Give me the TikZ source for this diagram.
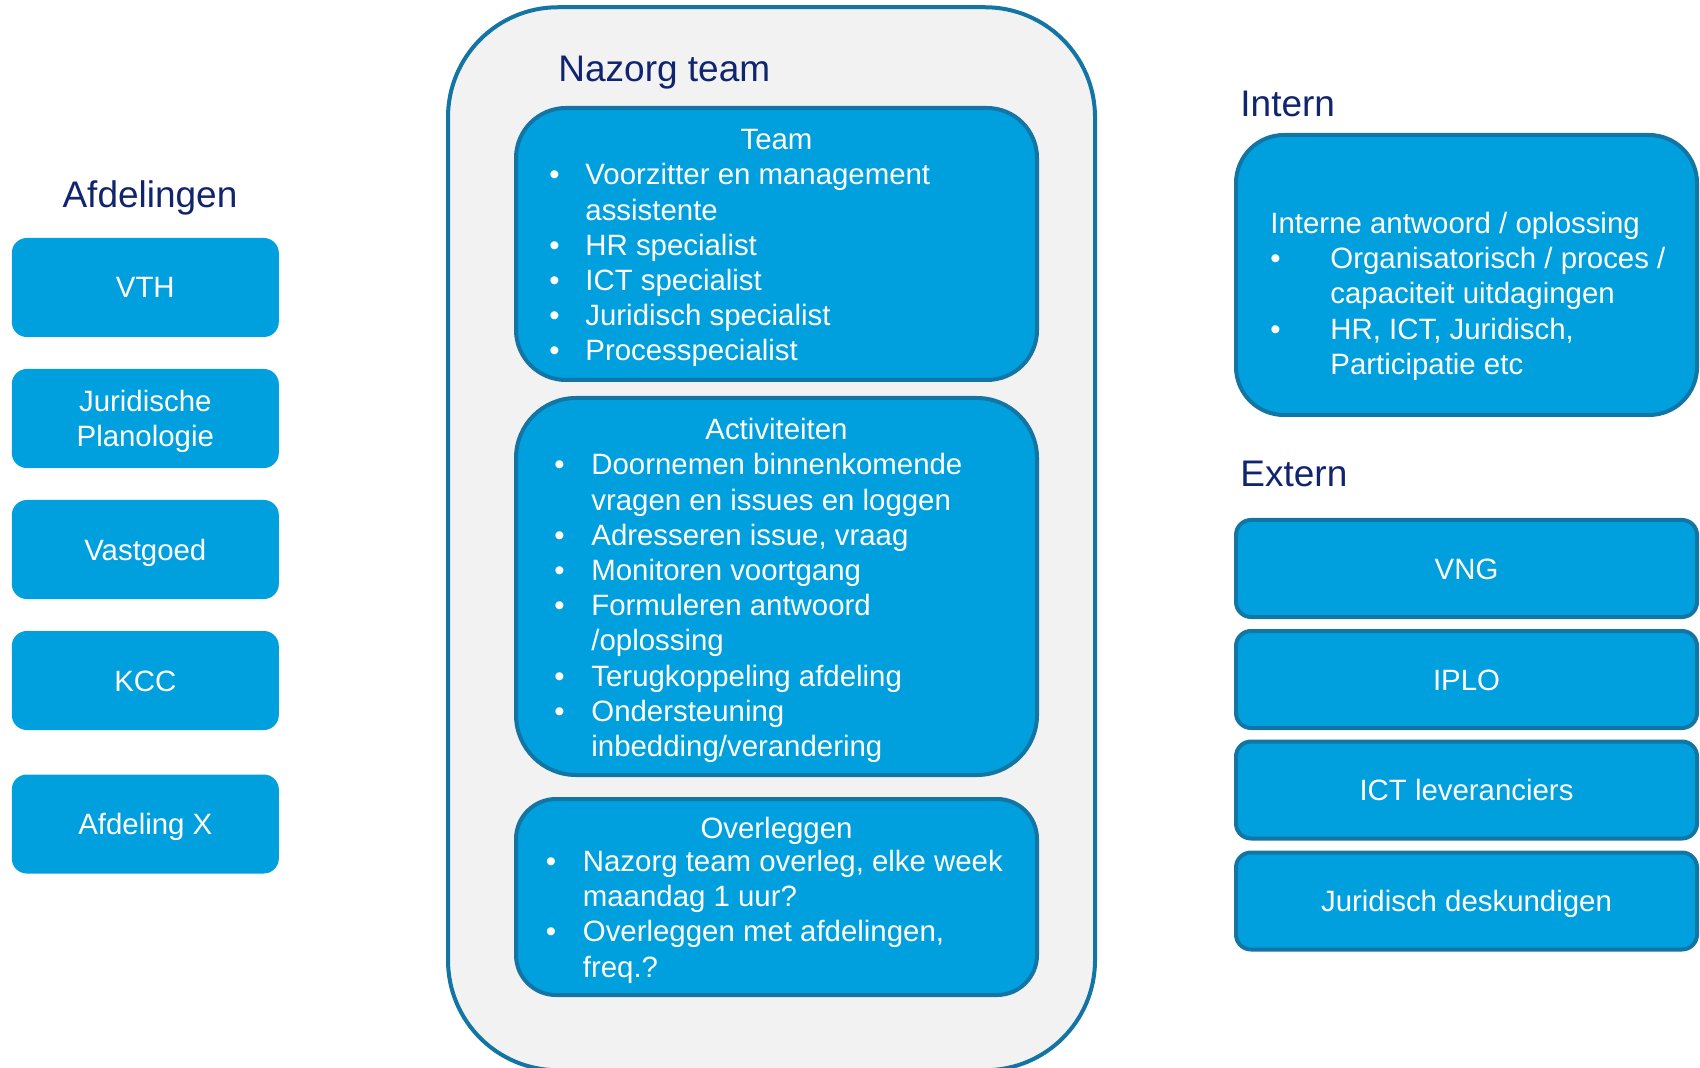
\documentclass[tikz,border=0pt]{standalone}
\usepackage{fontspec}
\setmainfont{Liberation Sans}

\definecolor{vakblauw}{RGB}{0,160,223}
\definecolor{randblauw}{RGB}{19,117,163}
\definecolor{kopblauw}{RGB}{17,36,110}
\definecolor{achtergrond}{RGB}{242,242,242}

\begin{document}
\begin{tikzpicture}[
  x = 0.5pt, y = -0.5pt,
  kop/.style = {
    text = kopblauw,
    font = \fontsize{18.5}{22}\selectfont,
    inner sep = 0pt,
  },
  blok/.style = {
    shape = rectangle,
    fill = vakblauw,
    text = white,
    font = \fontsize{14.7}{17.6}\selectfont,
    align = center,
    inner sep = 0pt,
    outer sep = 0pt,
    text height = 10.5pt,
    text depth = 0pt,
  },
  afdeling/.style = {
    blok,
    rounded corners = 7.5pt,
    minimum width = 133.5pt,
    minimum height = 49.5pt,
  },
  kader/.style = {
    blok,
    draw = randblauw,
    line width = 2pt,
  },
  lijst/.style = {
    anchor = base west,
    text = white,
    font = \fontsize{14.7}{17.6}\selectfont,
    inner sep = 0pt,
    align = left,
  }
]
  \useasboundingbox (0, 0) rectangle (1700, 1068);

  % links: afdelingen
  \node[kop, anchor = base] (afdelingen) at (150, 208) {Afdelingen};
  \node[afdeling] (vth) at (145.3, 287.5) {VTH};
  \node[afdeling, text height = 28.1pt] (jurplan) at (145.3, 418.5) {Juridische\\Planologie};
  \node[afdeling] (vastgoed) at (145.3, 549.5) {Vastgoed};
  \node[afdeling] (kcc) at (145.3, 680.5) {KCC};
  \node[afdeling] (afdx) at (145.3, 824) {Afdeling X};

  % midden: nazorg team
  \node[shape = rectangle, rounded corners = 55pt, fill = achtergrond,
    draw = randblauw, line width = 2pt, minimum width = 323.5pt,
    minimum height = 531.5pt, inner sep = 0pt] (nazorg) at (771.5, 538.75) {};
  \node[kop, anchor = base west] (nazorgkop) at (558, 82) {Nazorg team};

  \node[kader, rounded corners = 25pt, minimum width = 260.5pt,
    minimum height = 136pt] (team) at (776.5, 244) {};
  \node[lijst, anchor = base] (teamkop) at (776.5, 150) {Team};
  \node[lijst] (teamlijst) at (549, 185) {%
    \begin{tabular}[t]{@{}p{18pt}@{}l@{}}
      \textbullet & Voorzitter en management\\
                  & assistente\\
      \textbullet & HR specialist\\
      \textbullet & ICT specialist\\
      \textbullet & Juridisch specialist\\
      \textbullet & Processpecialist
    \end{tabular}};

  \node[kader, rounded corners = 30pt, minimum width = 260.5pt,
    minimum height = 188.5pt] (activiteiten) at (776.5, 586.5) {};
  \node[lijst, anchor = base] (actkop) at (776.5, 440) {Activiteiten};
  \node[lijst] (actlijst) at (554, 475) {%
    \begin{tabular}[t]{@{}p{18.5pt}@{}l@{}}
      \textbullet & Doornemen binnenkomende\\
                  & vragen en issues en loggen\\
      \textbullet & Adresseren issue, vraag\\
      \textbullet & Monitoren voortgang\\
      \textbullet & Formuleren antwoord\\
                  & /oplossing\\
      \textbullet & Terugkoppeling afdeling\\
      \textbullet & Ondersteuning\\
                  & inbedding/verandering
    \end{tabular}};

  \node[kader, rounded corners = 20pt, minimum width = 260.5pt,
    minimum height = 98pt] (overleggen) at (776.5, 897) {};
  \node[lijst, anchor = base] (overkop) at (776.5, 838) {Overleggen};
  \node[lijst] (overlijst) at (545.5, 871.5) {%
    \begin{tabular}[t]{@{}p{18.5pt}@{}l@{}}
      \textbullet & Nazorg team overleg, elke week\\
                  & maandag 1 uur?\\
      \textbullet & Overleggen met afdelingen,\\
                  & freq.?
    \end{tabular}};

  % rechts: intern en extern
  \node[kop, anchor = base west] (intern) at (1240, 117) {Intern};
  \node[kader, rounded corners = 24pt, minimum width = 230.5pt,
    minimum height = 140pt] (internblok) at (1466.5, 275) {};
  \node[lijst] (internlijst) at (1270, 233.5) {%
    \begin{tabular}[t]{@{}p{30pt}@{}l@{}}
      \multicolumn{2}{@{}l@{}}{Interne antwoord / oplossing}\\
      \textbullet & Organisatorisch / proces /\\
                  & capaciteit uitdagingen\\
      \textbullet & HR, ICT, Juridisch,\\
                  & Participatie etc
    \end{tabular}};

  \node[kop, anchor = base west] (extern) at (1240, 487) {Extern};
  \begin{scope}[
    every node/.style = {
      kader, rounded corners = 7.5pt,
      minimum width = 230.5pt, minimum height = 48.5pt
    }
  ]
    \node (vng) at (1466.5, 568.5) {VNG};
    \node (iplo) at (1466.5, 679.5) {IPLO};
    \node (ictlev) at (1466.5, 790) {ICT leveranciers};
    \node (jurdesk) at (1466.5, 901) {Juridisch deskundigen};
  \end{scope}
\end{tikzpicture}
\end{document}
